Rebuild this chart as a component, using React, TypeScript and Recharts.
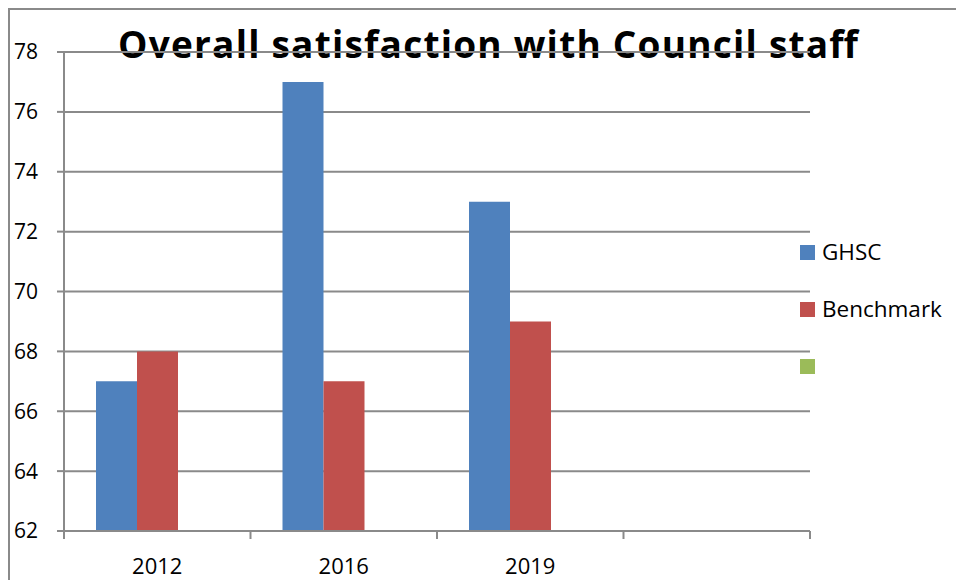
import { Bar, BarChart, CartesianGrid, XAxis, YAxis } from 'recharts'

const categories = ['2012', '2016', '2019', '']
const ghsc = [67, 77, 73, null]
const benchmark = [68, 67, 69, null]
const unnamed = [null, null, null, null]
const yTicks = [62, 64, 66, 68, 70, 72, 74, 76, 78]
const title = 'Overall satisfaction with Council staff'

const series = [
  { key: 'ghsc', name: 'GHSC', color: '#4f81bd' },
  { key: 'benchmark', name: 'Benchmark', color: '#c0504d' },
  { key: 'unnamed', name: '', color: '#9bbb59' },
]

const W = 946
const H = 570
const Y_W = 54
const margin = { top: 42, right: 146, left: 0, bottom: 9 }
const font = "'Open Sans', sans-serif"
const grey = '#8a8a8a'

const data = categories.map((year, i) => ({ year, ghsc: ghsc[i], benchmark: benchmark[i], unnamed: unnamed[i] }))

function YearTick({ x, y, payload, index }: { x: number; y: number; payload: { value: string }; index: number }) {
  const band = (W - margin.left - margin.right - Y_W) / categories.length
  const left = x - band / 2
  return <g>
    <line x1={left} x2={left} y1={y} y2={y + 8} stroke={grey} strokeWidth={2} />
    {index === categories.length - 1 ? <line x1={left + band} x2={left + band} y1={y} y2={y + 8} stroke={grey} strokeWidth={2} /> : null}
    <text x={x} y={y + 43} textAnchor="middle" fill="#000" fontSize={22} fontFamily={font}>{payload.value}</text>
  </g>
}

export default function App() {
  return <div style={{ position: 'relative', width: W, height: H, borderTop: `2px solid ${grey}`, borderLeft: `2px solid ${grey}`, fontFamily: font }}>
    <style>{'body{margin:8px 0 0 8px;overflow:hidden}'}</style>
    <svg width={W} height={80} style={{ position: 'absolute', left: 0, top: 0 }}>
      <text x={478} y={48} textAnchor="middle" fontSize={37} fontWeight={700} fontFamily={font} fill="#000"
        textLength={740} lengthAdjust="spacing">{title}</text>
    </svg>
    <div style={{ position: 'absolute', left: 0, top: 0 }}>
      <BarChart width={W} height={H} data={data} margin={margin} barCategoryGap={32} barGap={0}>
        <CartesianGrid vertical={false} stroke={grey} strokeWidth={2} />
        <XAxis dataKey="year" height={40} tickLine={false} tickSize={0} tickMargin={0} axisLine={{ stroke: grey, strokeWidth: 2 }} tick={(props: any) => <YearTick {...props} />} interval={0} />
        <YAxis width={Y_W} domain={[62, 78]} ticks={yTicks} allowDataOverflow tickSize={7} tickMargin={19}
          tickLine={{ stroke: grey, strokeWidth: 2 }} axisLine={{ stroke: grey, strokeWidth: 2 }}
          tick={{ fill: '#000', fontSize: 21, fontFamily: font }} />
        {series.map((s) => <Bar key={s.key} dataKey={s.key} name={s.name} fill={s.color} isAnimationActive={false} />)}
      </BarChart>
    </div>
    <div style={{ position: 'absolute', left: 790, top: 231 }}>
      {series.map((s) => <div key={s.key} style={{ display: 'flex', alignItems: 'center', height: 22, marginBottom: 35 }}>
        <span style={{ width: 15, height: 15, background: s.color, display: 'inline-block' }} />
        <span style={{ marginLeft: 7, fontSize: 22.5, lineHeight: '22px', color: '#000' }}>{s.name}</span>
      </div>)}
    </div>
  </div>
}
